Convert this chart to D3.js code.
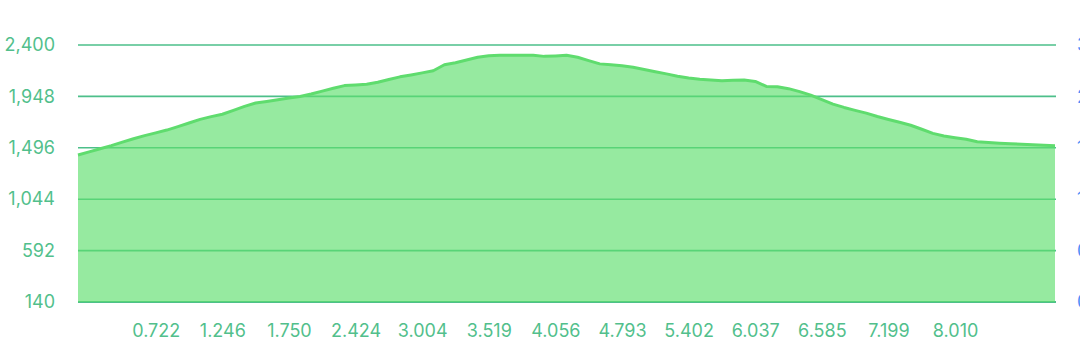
<!DOCTYPE html>
<html>
<head>
  <meta charset="utf-8" />
  <title>Elevation</title>
  <style>
    html, body { margin: 0; padding: 0; background: #fff; overflow: hidden; }
    svg text { font-family: Inter, "Noto Sans", sans-serif; }
  </style>
  <script src="https://cdnjs.cloudflare.com/ajax/libs/d3/7.8.5/d3.min.js"></script>
</head>
<body>
  <div id="chart"></div>
  <script>
    // elevation samples along the route (m)
    var elevation = [
      1433, 1460, 1488, 1515, 1546, 1576, 1603, 1627, 1652, 1682,
      1714, 1746, 1770, 1791, 1825, 1860, 1890, 1904, 1918, 1933,
      1947, 1969, 1994, 2019, 2043, 2049, 2055, 2073, 2097, 2120,
      2137, 2155, 2174, 2226, 2244, 2268, 2292, 2305, 2309, 2310,
      2310, 2309, 2300, 2304, 2309, 2292, 2263, 2234, 2227, 2218,
      2204, 2185, 2165, 2146, 2126, 2110, 2098, 2092, 2086, 2089,
      2092, 2080, 2036, 2033, 2016, 1990, 1959, 1919, 1880, 1851,
      1825, 1801, 1771, 1745, 1720, 1694, 1659, 1623, 1600, 1585,
      1571, 1550, 1543, 1537, 1532, 1527, 1522, 1518, 1514
    ];
    // distance labels (km) shown on the x axis
    var distLabels = ['0.722', '1.246', '1.750', '2.424', '3.004', '3.519', '4.056',
      '4.793', '5.402', '6.037', '6.585', '7.199', '8.010'];
    var yTicks = [140, 592, 1044, 1496, 1948, 2400];
    var rightTicks = ['0', '0.6', '1.2', '1.8', '2.4', '3.0'];

    var W = 1080, H = 361;
    var plotL = 78, plotR = 1055, plotT = 45, plotB = 302;
    var firstTick = 7, tickStep = 6;

    var green = '#52bf8c';
    var svg = d3.select('#chart').append('svg')
      .attr('width', W)
      .attr('height', H);

    var x = d3.scalePoint()
      .domain(d3.range(elevation.length))
      .range([plotL, plotR]);

    var y = d3.scaleLinear()
      .domain([140, 2400])
      .range([plotB, plotT]);

    // grid lines
    svg.append('g')
      .selectAll('line')
      .data(yTicks)
      .enter()
      .append('line')
      .attr('x1', plotL)
      .attr('x2', plotR + 1)
      .attr('y1', d => y(d))
      .attr('y2', d => y(d))
      .attr('stroke', '#4dbf8a')
      .attr('stroke-width', d => d === 140 ? 2 : 1.6);

    // left axis
    var yAxis = d3.axisLeft(y)
      .tickValues(yTicks)
      .tickFormat(d3.format(','))
      .tickSize(0)
      .tickPadding(23);
    var gy = svg.append('g')
      .attr('transform', 'translate(' + plotL + ',0)')
      .call(yAxis);
    gy.select('.domain').remove();
    gy.selectAll('text')
      .attr('fill', green)
      .style('font-size', '18px');

    // right axis (cut off at the edge)
    var yr = d3.scalePoint()
      .domain(rightTicks)
      .range([plotB, plotT]);
    var gr = svg.append('g')
      .attr('transform', 'translate(' + (plotR + 22) + ',0)')
      .call(d3.axisRight(yr).tickSize(0).tickPadding(0));
    gr.select('.domain').remove();
    gr.selectAll('text')
      .attr('fill', '#4e8ef7')
      .style('font-size', '18px');

    // area + line
    var area = d3.area()
      .x((d, i) => x(i))
      .y0(y(140))
      .y1(d => y(d));

    svg.append('path')
      .datum(elevation)
      .attr('d', area)
      .attr('fill', '#5edf6d')
      .attr('fill-opacity', 0.65);

    var line = d3.line()
      .x((d, i) => x(i))
      .y(d => y(d));

    svg.append('path')
      .datum(elevation)
      .attr('d', line)
      .attr('fill', 'none')
      .attr('stroke', '#5fdc6e')
      .attr('stroke-width', 3)
      .attr('stroke-linejoin', 'round');

    // bottom axis
    var tickIdx = distLabels.map((d, i) => firstTick + i * tickStep);
    var xAxis = d3.axisBottom(x)
      .tickValues(tickIdx)
      .tickFormat((d, i) => distLabels[i])
      .tickSize(0)
      .tickPadding(22);
    var gx = svg.append('g')
      .attr('transform', 'translate(0,' + plotB + ')')
      .call(xAxis);
    gx.select('.domain').remove();
    gx.selectAll('text')
      .attr('fill', green)
      .style('font-size', '18px');
  </script>
</body>
</html>
